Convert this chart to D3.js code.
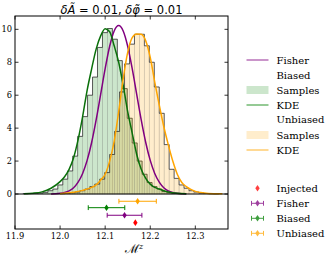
<!DOCTYPE html>
<html lang="en">
<head>
    <meta charset="UTF-8">
    <title>Chirp mass posterior</title>
    <script src="https://d3js.org/d3.v7.min.js"></script>
    <style>
        body { margin: 0; background: #fff; }
        .tick-label { font-family: 'DejaVu Serif', serif; font-size: 8.3px; fill: #000; }
        .legend text { font-family: 'DejaVu Serif', serif; font-size: 10px; fill: #000; }
    </style>
</head>
<body>
    <script>
        // histogram bins (density), width 0.011
        const binWidth = 0.011;
        const biasedStart = 11.918;
        const biasedHist = [0.02, 0.03, 0.04, 0.06, 0.1, 0.2, 0.3, 0.55, 0.9, 1.4, 2.3, 3.5, 4.7, 6.0, 7.1, 8.9,
                            9.8, 10.05, 9.4, 8.1, 6.4, 4.6, 3.1, 2.0, 1.2, 0.7, 0.45, 0.3, 0.15, 0.08, 0.04, 0.02];
        const unbiasedStart = 12.0;
        const unbiasedHist = [0.02, 0.04, 0.08, 0.12, 0.2, 0.3, 0.45, 0.6, 0.9, 1.3, 2.4, 3.8, 6.2, 7.9, 9.1, 9.7,
                              9.7, 9.0, 8.0, 6.5, 4.9, 3.0, 1.5, 0.95, 0.55, 0.35, 0.2, 0.12, 0.06, 0.03, 0.02, 0.01];

        // KDE curves and Fisher gaussian, [x, density]
        const biasedKde = [[11.92, 0.02], [11.94, 0.05], [11.96, 0.13], [11.98, 0.35], [12.0, 0.75], [12.01, 1.05],
                           [12.02, 1.5], [12.03, 2.2], [12.04, 3.3], [12.05, 4.7], [12.06, 6.3], [12.07, 7.6],
                           [12.08, 8.8], [12.09, 9.6], [12.1, 10.03], [12.11, 9.85], [12.12, 9.0], [12.13, 8.0],
                           [12.14, 6.6], [12.15, 5.0], [12.16, 3.7], [12.17, 2.4], [12.18, 1.5], [12.19, 0.95],
                           [12.2, 0.6], [12.21, 0.4], [12.22, 0.3], [12.24, 0.12], [12.26, 0.04], [12.28, 0.01]];
        const unbiasedKde = [[12.0, 0.02], [12.03, 0.1], [12.05, 0.22], [12.07, 0.4], [12.08, 0.55], [12.09, 0.85],
                             [12.1, 1.2], [12.11, 2.0], [12.12, 3.2], [12.13, 5.0], [12.14, 7.0], [12.15, 8.6],
                             [12.16, 9.5], [12.17, 9.72], [12.18, 9.7], [12.19, 9.3], [12.2, 8.3], [12.21, 6.8],
                             [12.22, 5.4], [12.23, 4.1], [12.24, 3.0], [12.25, 2.0], [12.26, 1.2], [12.27, 0.7],
                             [12.28, 0.45], [12.29, 0.28], [12.3, 0.16], [12.32, 0.06], [12.34, 0.02], [12.36, 0.01]];
        const fisherCurve = [[11.98, 0.005], [11.99, 0.015], [12.0, 0.04], [12.01, 0.09], [12.02, 0.19], [12.03, 0.38],
                             [12.04, 0.72], [12.05, 1.25], [12.06, 2.04], [12.07, 3.13], [12.08, 4.5], [12.09, 6.05],
                             [12.1, 7.61], [12.11, 8.97], [12.12, 9.9], [12.13, 10.23], [12.14, 9.9], [12.15, 8.97],
                             [12.16, 7.61], [12.17, 6.05], [12.18, 4.5], [12.19, 3.13], [12.2, 2.04], [12.21, 1.25],
                             [12.22, 0.72], [12.23, 0.38], [12.24, 0.19], [12.25, 0.09], [12.26, 0.04], [12.27, 0.015],
                             [12.28, 0.005]];

        // point estimates with 1-sigma bars, drawn below zero
        const pointNames = ['Unbiased', 'Biased', 'Fisher', 'Injected'];
        const pointCentres = [12.172, 12.103, 12.143, 12.167];
        const pointErrors = [0.0415, 0.0405, 0.0385, 0];
        const pointRows = [-0.44, -0.83, -1.29, -1.74];
        const pointColors = ['#ffa500', 'green', 'purple', 'red'];

        const xTicks = [11.9, 12.0, 12.1, 12.2, 12.3];
        const yTicks = [0, 2, 4, 6, 8, 10];

        const legendLabels = ['Fisher', 'Biased', 'Samples', 'KDE', 'Unbiased', 'Samples', 'KDE'];
        const pointLegendOrder = ['Injected', 'Fisher', 'Biased', 'Unbiased'];

        const box = {left: 15, right: 228, top: 16, bottom: 229};

        const svg = d3.select('body')
                      .append('svg')
                      .attr('width', 332)
                      .attr('height', 257);

        const xScale = d3.scaleLinear()
                         .domain([11.9, 12.3725])
                         .range([box.left, box.right]);

        const yScale = d3.scaleLinear()
                         .domain([-2.125, 10.81])
                         .range([box.bottom, box.top]);

        svg.append('defs').append('clipPath').attr('id', 'plot-clip')
            .append('rect')
            .attr('x', box.left).attr('y', box.top)
            .attr('width', box.right - box.left).attr('height', box.bottom - box.top);

        const plot = svg.append('g').attr('clip-path', 'url(#plot-clip)');

        function drawHist(start, heights, color) {
            const bins = heights.map((h, i) => ({x0: start + i * binWidth, x1: start + (i + 1) * binWidth, h: h}));
            plot.append('g').selectAll('rect')
                .data(bins)
                .enter().append('rect')
                .attr('x', d => xScale(d.x0))
                .attr('y', d => yScale(d.h))
                .attr('width', d => xScale(d.x1) - xScale(d.x0))
                .attr('height', d => yScale(0) - yScale(d.h))
                .attr('fill', color)
                .attr('fill-opacity', 0.2)
                .attr('stroke', '#666')
                .attr('stroke-opacity', 0.18)
                .attr('stroke-width', 0.8);

            // step outline
            const pts = [[bins[0].x0, 0]];
            bins.forEach(d => { pts.push([d.x0, d.h]); pts.push([d.x1, d.h]); });
            pts.push([bins[bins.length - 1].x1, 0]);
            plot.append('path')
                .datum(pts)
                .attr('d', d3.line().x(d => xScale(d[0])).y(d => yScale(d[1])))
                .attr('fill', 'none')
                .attr('stroke', '#222')
                .attr('stroke-opacity', 0.7)
                .attr('stroke-width', 1);
        }

        drawHist(biasedStart, biasedHist, 'green');
        drawHist(unbiasedStart, unbiasedHist, '#ffa500');

        const curve = d3.line()
                        .x(d => xScale(d[0]))
                        .y(d => yScale(d[1]))
                        .curve(d3.curveMonotoneX);

        [[fisherCurve, 'purple'], [biasedKde, '#0a700a'], [unbiasedKde, '#ffa500']].forEach(([data, color]) => {
            plot.append('path')
                .datum(data)
                .attr('d', curve)
                .attr('fill', 'none')
                .attr('stroke', color)
                .attr('stroke-width', 1.5);
        });

        // zero line
        plot.append('line')
            .attr('x1', box.left).attr('x2', box.right)
            .attr('y1', yScale(0)).attr('y2', yScale(0))
            .attr('stroke', '#000').attr('stroke-width', 1);

        function diamond(g, cx, cy, color) {
            g.append('path')
                .attr('d', `M${cx},${cy - 3.3}L${cx + 2.2},${cy}L${cx},${cy + 3.3}L${cx - 2.2},${cy}Z`)
                .attr('fill', color);
        }

        function errorBar(g, x0, x1, cy, color) {
            g.append('line').attr('x1', x0).attr('x2', x1).attr('y1', cy).attr('y2', cy)
                .attr('stroke', color).attr('stroke-width', 1);
            [x0, x1].forEach(x => {
                g.append('line').attr('x1', x).attr('x2', x).attr('y1', cy - 2.4).attr('y2', cy + 2.4)
                    .attr('stroke', color).attr('stroke-width', 1);
            });
        }

        pointNames.forEach((name, i) => {
            const cy = yScale(pointRows[i]);
            if (pointErrors[i] > 0) {
                errorBar(plot, xScale(pointCentres[i] - pointErrors[i]), xScale(pointCentres[i] + pointErrors[i]), cy, pointColors[i]);
            }
            diamond(plot, xScale(pointCentres[i]), cy, pointColors[i]);
        });

        // frame
        svg.append('rect')
            .attr('x', box.left).attr('y', box.top)
            .attr('width', box.right - box.left).attr('height', box.bottom - box.top)
            .attr('fill', 'none').attr('stroke', '#000').attr('stroke-width', 1);

        // inward ticks
        const ticks = svg.append('g').attr('stroke', '#000').attr('stroke-width', 0.8);
        xTicks.forEach(t => {
            const x = xScale(t);
            ticks.append('line').attr('x1', x).attr('x2', x).attr('y1', box.bottom).attr('y2', box.bottom - 3.5);
            ticks.append('line').attr('x1', x).attr('x2', x).attr('y1', box.top).attr('y2', box.top + 3.5);
            svg.append('text').attr('class', 'tick-label')
                .attr('x', x).attr('y', box.bottom + 9.5)
                .attr('text-anchor', 'middle')
                .text(d3.format('.1f')(t));
        });
        yTicks.forEach(t => {
            const y = yScale(t);
            ticks.append('line').attr('x1', box.left).attr('x2', box.left + 3.5).attr('y1', y).attr('y2', y);
            ticks.append('line').attr('x1', box.right).attr('x2', box.right - 3.5).attr('y1', y).attr('y2', y);
            svg.append('text').attr('class', 'tick-label')
                .attr('x', box.left - 3).attr('y', y + 3)
                .attr('text-anchor', 'end')
                .text(t);
        });

        // title
        const title = svg.append('text')
            .attr('x', (box.left + box.right) / 2).attr('y', 13.5)
            .attr('text-anchor', 'middle')
            .style('font-family', "'DejaVu Sans', sans-serif")
            .style('font-size', '11.5px');
        title.append('tspan').style('font-style', 'italic').text('δÃ');
        title.append('tspan').text(' = 0.01, ');
        title.append('tspan').style('font-style', 'italic').text('δφ̃');
        title.append('tspan').text(' = 0.01');

        // x label
        const xlabel = svg.append('text')
            .attr('x', 134).attr('y', 253)
            .attr('text-anchor', 'middle')
            .style('font-family', "'DejaVu Serif', serif")
            .style('font-size', '12.5px');
        xlabel.append('tspan').text('ℳ');
        xlabel.append('tspan').attr('dy', -4).style('font-size', '8px').style('font-style', 'italic').text('z');

        // legends
        const legend = svg.append('g').attr('class', 'legend');
        const rowY = [60, 75, 90, 105, 119.5, 135, 150];
        const handles = [
            {type: 'line', color: 'purple'}, null, {type: 'patch', color: 'green'}, {type: 'line', color: 'green'},
            null, {type: 'patch', color: '#ffa500'}, {type: 'line', color: '#ffa500'}
        ];
        legendLabels.forEach((label, i) => {
            const y = rowY[i];
            const h = handles[i];
            if (h && h.type === 'line') {
                legend.append('line').attr('x1', 246.5).attr('x2', 268.5).attr('y1', y).attr('y2', y)
                    .attr('stroke', h.color).attr('stroke-opacity', 0.7).attr('stroke-width', 1.2);
            } else if (h) {
                legend.append('rect').attr('x', 246.5).attr('y', y - 4).attr('width', 22).attr('height', 8)
                    .attr('fill', h.color).attr('fill-opacity', 0.2);
            }
            legend.append('text').attr('x', 276.5).attr('y', y + 3.5).text(label);
        });

        const pointRowY = [188.3, 203.3, 218.3, 233.3];
        pointLegendOrder.forEach((name, i) => {
            const idx = pointNames.indexOf(name);
            const y = pointRowY[i];
            const g = legend.append('g').attr('opacity', 0.75);
            if (pointErrors[idx] > 0) {
                errorBar(g, 251.5, 263.5, y, pointColors[idx]);
            }
            diamond(g, 257.5, y, pointColors[idx]);
            legend.append('text').attr('x', 276.5).attr('y', y + 3.5).text(name);
        });
    </script>
</body>
</html>
